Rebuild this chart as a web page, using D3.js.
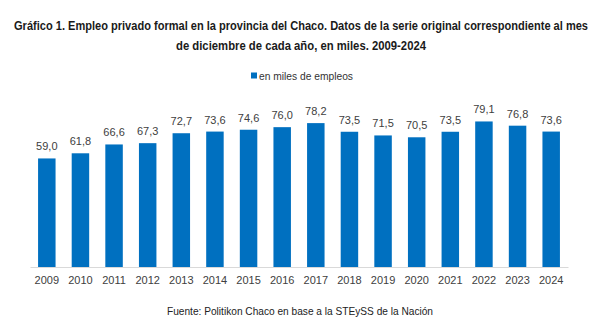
<!DOCTYPE html>
<html>
<head>
<meta charset="utf-8">
<script src="https://cdn.jsdelivr.net/npm/d3@7"></script>
<style>
  body { margin: 0; background: #fff; }
  svg { display: block; }
</style>
</head>
<body>
<script>
// Empleo privado formal, Chaco (diciembre de cada año, en miles)
const years = ["2009", "2010", "2011", "2012", "2013", "2014", "2015", "2016",
               "2017", "2018", "2019", "2020", "2021", "2022", "2023", "2024"];
const empleo = [59.0, 61.8, 66.6, 67.3, 72.7, 73.6, 74.6, 76.0,
                78.2, 73.5, 71.5, 70.5, 73.5, 79.1, 76.8, 73.6];

const titleLines = [
    "Gráfico 1. Empleo privado formal en la provincia del Chaco. Datos de la serie original correspondiente al mes",
    "de diciembre de cada año, en miles. 2009-2024"
];
const legendLabel = "en miles de empleos";
const sourceLabel = "Fuente: Politikon Chaco en base a la STEySS de la Nación";

const width = 614, height = 329;
const barColor = "#0070c0";
const narrow = "'Liberation Sans Narrow', 'Liberation Sans', Arial, sans-serif";
const regular = "'Liberation Sans', Arial, sans-serif";

const fmt = v => v.toFixed(1).replace(".", ",");

// squeeze a text horizontally when it runs wider than the room it has
function fitWidth(sel, maxW) {
    sel.each(function() {
        const w = this.getComputedTextLength();
        if (w > maxW) {
            d3.select(this)
                .attr("textLength", maxW)
                .attr("lengthAdjust", "spacingAndGlyphs");
        }
    });
}

const svg = d3.select("body").append("svg")
    .attr("width", width)
    .attr("height", height);

// title, two centred lines
const titleWidths = [574, 250];
svg.append("g").selectAll("text")
    .data(titleLines)
    .join("text")
    .attr("x", 301)
    .attr("y", (d, i) => 29.5 + i * 20)
    .attr("text-anchor", "middle")
    .attr("font-family", narrow)
    .attr("font-weight", "bold")
    .attr("font-size", 13)
    .attr("fill", "#1a1a1a")
    .text(d => d)
    .each(function(d, i) { fitWidth(d3.select(this), titleWidths[i]); });

// legend
const legend = svg.append("g").attr("transform", "translate(251,75.5)");
legend.append("rect")
    .attr("x", 0).attr("y", -3)
    .attr("width", 6).attr("height", 6)
    .attr("fill", barColor);
legend.append("text")
    .attr("x", 8).attr("y", 4)
    .attr("font-family", narrow)
    .attr("font-size", 11)
    .attr("fill", "#333")
    .text(legendLabel)
    .call(fitWidth, 94);

const x = d3.scaleBand()
    .domain(years)
    .range([30, 568])
    .paddingInner(0.48)
    .paddingOuter(0.24);

const y = d3.scaleLinear()
    .domain([0, 90])
    .range([267, 101.4]);

svg.append("g")
    .selectAll("rect")
    .data(years)
    .join("rect")
    .attr("x", d => x(d))
    .attr("y", (d, i) => y(empleo[i]))
    .attr("width", x.bandwidth())
    .attr("height", (d, i) => y(0) - y(empleo[i]))
    .attr("fill", barColor);

// value labels above the bars
svg.append("g")
    .selectAll("text")
    .data(years)
    .join("text")
    .attr("x", d => x(d) + x.bandwidth() / 2)
    .attr("y", (d, i) => y(empleo[i]) - 8)
    .attr("text-anchor", "middle")
    .attr("font-family", regular)
    .attr("font-size", 11)
    .attr("fill", "#404040")
    .text((d, i) => fmt(empleo[i]));

// category axis
const xAxis = svg.append("g")
    .attr("transform", `translate(0,${y(0)})`)
    .call(d3.axisBottom(x).tickSize(0).tickPadding(9));
xAxis.select(".domain").attr("stroke", "#d9d9d9").attr("stroke-width", 1.2);
xAxis.selectAll("text")
    .attr("font-family", regular)
    .attr("font-size", 11)
    .attr("fill", "#404040");

// source note
svg.append("text")
    .attr("x", 300)
    .attr("y", 315)
    .attr("text-anchor", "middle")
    .attr("font-family", narrow)
    .attr("font-size", 11)
    .attr("fill", "#222")
    .text(sourceLabel)
    .call(fitWidth, 266);
</script>
</body>
</html>
